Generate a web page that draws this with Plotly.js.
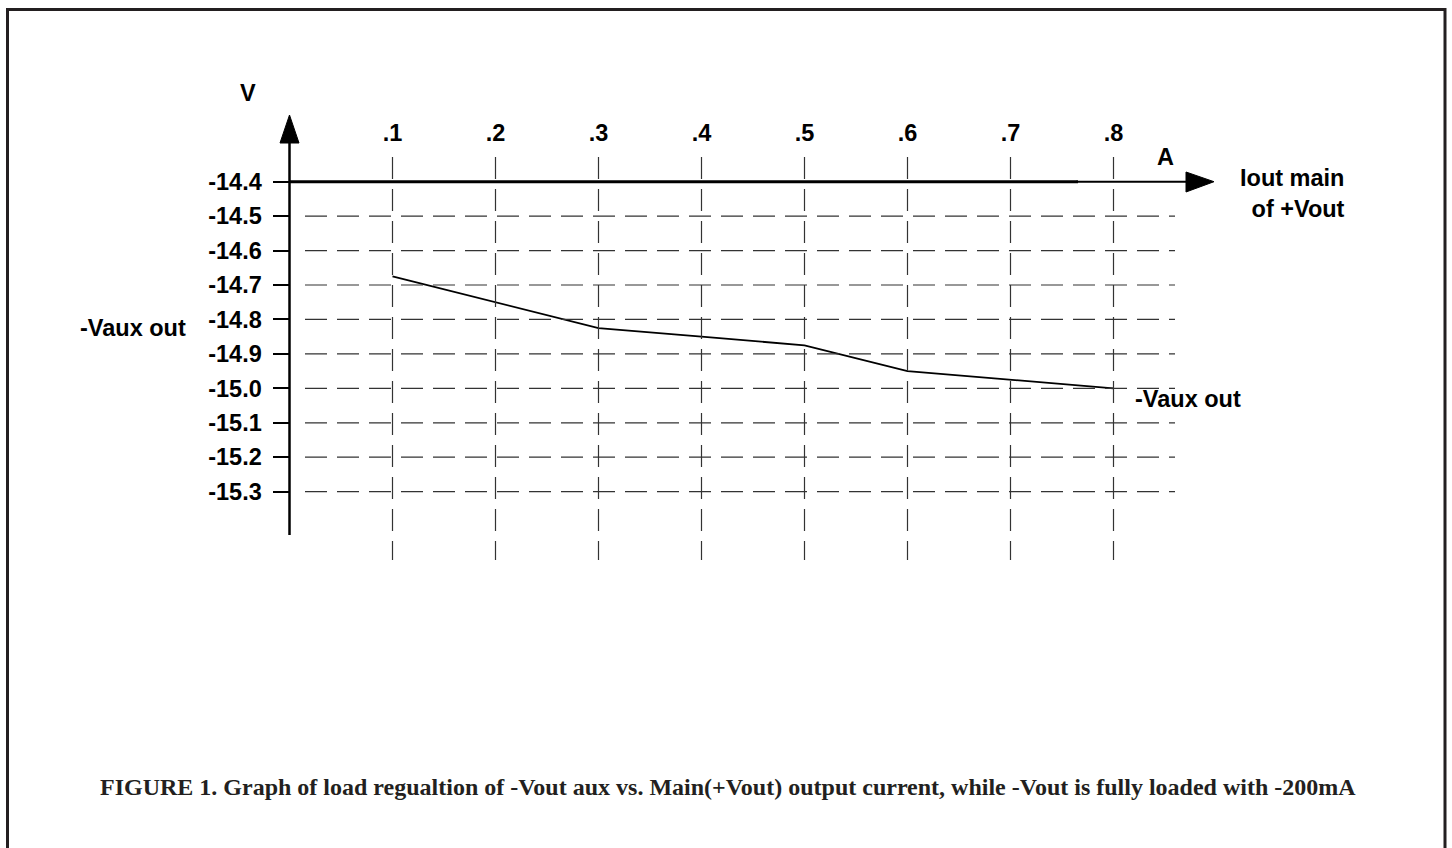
<!DOCTYPE html>
<html>
<head>
<meta charset="utf-8">
<script src="https://cdn.plot.ly/plotly-3.0.1.min.js"></script>
<style>
  html, body { margin: 0; padding: 0; background: #ffffff; }
  #chart { width: 1452px; height: 848px; }
</style>
</head>
<body>
<div id="chart"></div>
<script>
// ---------------- data ----------------
const ioutMain = [0.1, 0.2, 0.3, 0.4, 0.5, 0.6, 0.7, 0.8];          // A
const vauxOut  = [-14.675, -14.75, -14.825, -14.85, -14.875, -14.95, -14.975, -15.0]; // V
const xTickVals   = [0.1, 0.2, 0.3, 0.4, 0.5, 0.6, 0.7, 0.8];
const xTickLabels = ['.1', '.2', '.3', '.4', '.5', '.6', '.7', '.8'];
const yTickVals   = [-14.4, -14.5, -14.6, -14.7, -14.8, -14.9, -15.0, -15.1, -15.2, -15.3];
const yTickLabels = ['-14.4', '-14.5', '-14.6', '-14.7', '-14.8', '-14.9', '-15.0', '-15.1', '-15.2', '-15.3'];
const seriesName = '-Vaux out';
const yAxisName = '-Vaux out';
const yUnit = 'V';
const xUnit = 'A';
const xAxisName = 'Iout main<br>of +Vout';
const caption = 'FIGURE 1. Graph of load regualtion of -Vout aux vs. Main(+Vout) output current, while -Vout is fully loaded with -200mA';

// ---------------- geometry (page pixels) ----------------
const W = 1452, H = 848;
const X0PX = 289.5, XSCALE = 1030;     // px per 1 A
const Y0PX = 181.7, Y0VAL = -14.4, YSCALE = 344.4; // px per 1 V
const px2x = px => (px - X0PX) / XSCALE;
const py2y = py => Y0VAL - (py - Y0PX) / YSCALE;
const pxp = px => px / W;
const pyp = py => 1 - py / H;

const BOLD = 'Liberation Sans, Arial, Helvetica, sans-serif';
const INK = '#000000';
const GRID = '#333333';
const DASH = '22px,10px';
const FS = 23.5;

const shapes = [];
// frame
shapes.push({type: 'rect', xref: 'paper', yref: 'paper',
  x0: pxp(7.5), x1: pxp(1445), y0: pyp(9.5), y1: pyp(900),
  line: {color: '#231f20', width: 3}, fillcolor: 'rgba(0,0,0,0)'});
// horizontal dashed grid
yTickVals.slice(1).forEach(v => shapes.push({type: 'line', xref: 'x', yref: 'y',
  x0: px2x(305), x1: px2x(1175), y0: v, y1: v,
  line: {color: GRID, width: 1.2, dash: DASH}}));
// vertical dashed grid
xTickVals.forEach(v => shapes.push({type: 'line', xref: 'x', yref: 'y',
  x0: v, x1: v, y0: py2y(157), y1: py2y(560),
  line: {color: GRID, width: 1.2, dash: DASH}}));
// y axis line + arrow
shapes.push({type: 'line', xref: 'x', yref: 'y', x0: 0, x1: 0, y0: py2y(140), y1: py2y(535),
  line: {color: INK, width: 2.5}});
shapes.push({type: 'path', xref: 'x', yref: 'y',
  path: `M ${px2x(X0PX)} ${py2y(115)} L ${px2x(280)} ${py2y(143)} L ${px2x(299)} ${py2y(143)} Z`,
  fillcolor: INK, line: {color: INK, width: 1}});
// x axis line (thick part then thin part) + arrow
shapes.push({type: 'line', xref: 'x', yref: 'y', x0: 0, x1: px2x(1078), y0: Y0VAL, y1: Y0VAL,
  line: {color: INK, width: 3}});
shapes.push({type: 'line', xref: 'x', yref: 'y', x0: px2x(1076), x1: px2x(1190), y0: Y0VAL, y1: Y0VAL,
  line: {color: INK, width: 2}});
shapes.push({type: 'path', xref: 'x', yref: 'y',
  path: `M ${px2x(1214)} ${Y0VAL} L ${px2x(1186)} ${py2y(172)} L ${px2x(1186)} ${py2y(192)} Z`,
  fillcolor: INK, line: {color: INK, width: 1}});

const ann = (text, px, py, size, xanchor, opts) => Object.assign({
  text: text, xref: 'paper', yref: 'paper', x: pxp(px), y: pyp(py),
  xanchor: xanchor || 'center', yanchor: 'middle', showarrow: false,
  font: {family: BOLD, size: size, color: INK, weight: 'bold'}
}, opts || {});

const annotations = [
  ann(yUnit, 248, 93, FS),
  ann(yAxisName, 133, 328, FS),
  ann(xUnit, 1165, 157, FS),
  ann(xAxisName, 1347, 194, FS, 'right', {align: 'right'}),
  ann(seriesName, 1188, 399, FS),
  ann(caption, 728, 787, 24, 'center', {font: {family: 'Liberation Serif, Times New Roman, serif', size: 24, color: '#231f20', weight: 'bold'}})
];

const trace = {
  type: 'scatter', mode: 'lines', name: seriesName,
  x: ioutMain, y: vauxOut,
  line: {color: INK, width: 1.8},
  hoverinfo: 'skip', cliponaxis: false
};

const layout = {
  width: W, height: H,
  margin: {l: 0, r: 0, t: 0, b: 0, pad: 0},
  paper_bgcolor: '#ffffff', plot_bgcolor: '#ffffff',
  showlegend: false,
  xaxis: {
    range: [px2x(0), px2x(W)], anchor: 'free', position: pyp(Y0PX), side: 'top',
    showgrid: false, zeroline: false, showline: false,
    tickmode: 'array', tickvals: xTickVals, ticktext: xTickLabels,
    ticks: '', ticklabelstandoff: 36,
    tickfont: {family: BOLD, size: FS, color: INK, weight: 'bold'}
  },
  yaxis: {
    range: [py2y(H), py2y(0)], anchor: 'free', position: pxp(X0PX), side: 'left',
    showgrid: false, zeroline: false, showline: false,
    tickmode: 'array', tickvals: yTickVals, ticktext: yTickLabels,
    ticks: 'outside', ticklen: 17, tickwidth: 2, tickcolor: INK,
    ticklabelstandoff: 6,
    tickfont: {family: BOLD, size: FS, color: INK, weight: 'bold'}
  },
  shapes: shapes,
  annotations: annotations
};

Plotly.newPlot('chart', [trace], layout, {displayModeBar: false, staticPlot: true});
</script>
</body>
</html>
